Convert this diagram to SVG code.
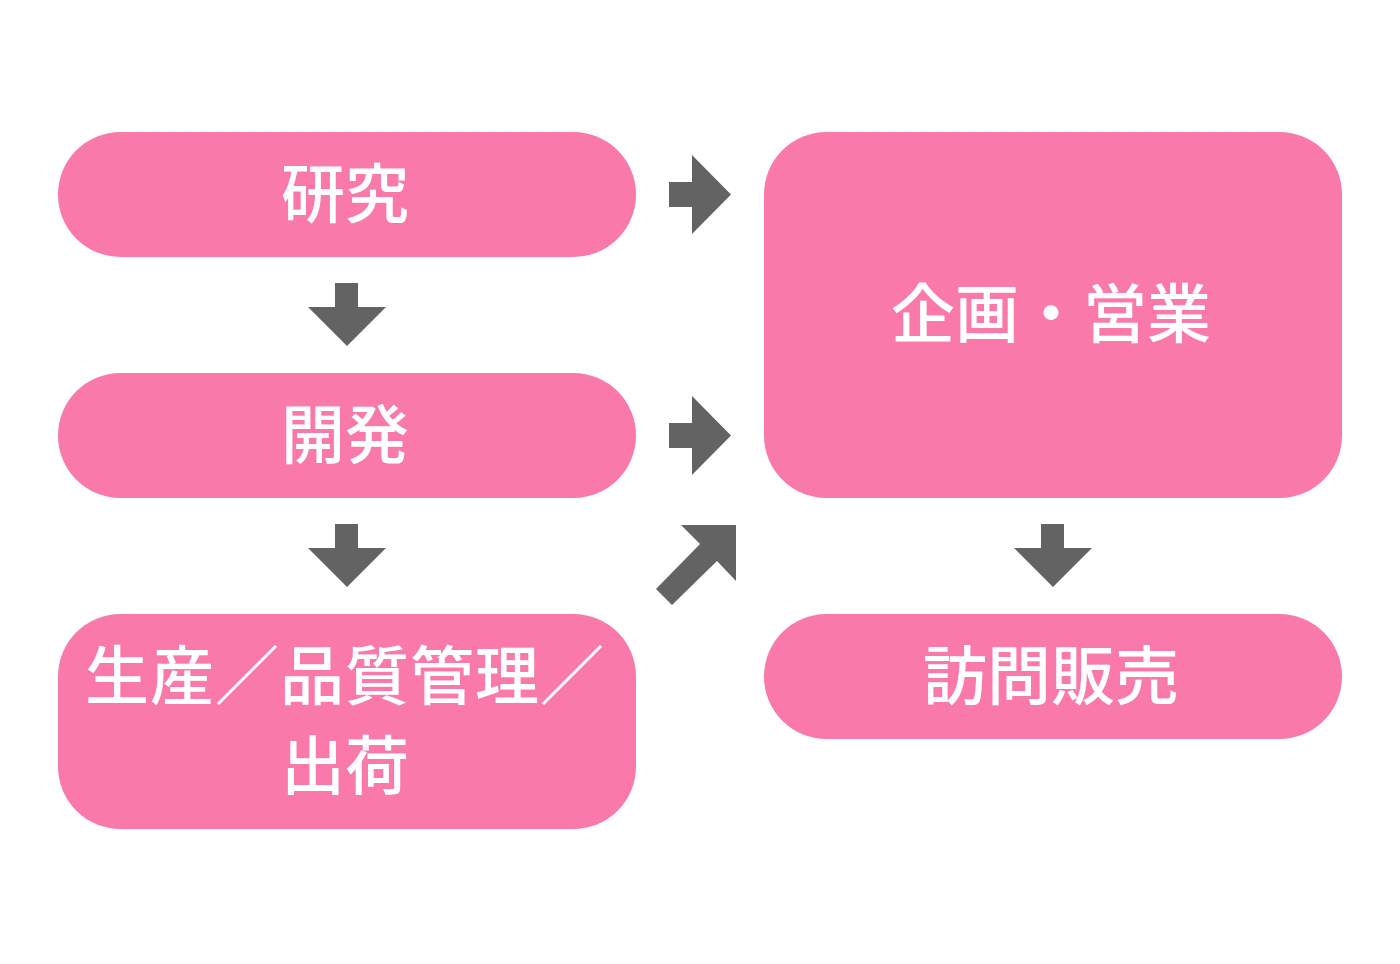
<svg xmlns="http://www.w3.org/2000/svg" width="1400" height="964" viewBox="0 0 1400 964">
<style>
.box{fill:#F97AAA}
.lbl{font-family:"Noto Sans CJK JP","Noto Sans CJK SC",sans-serif;font-weight:500;font-size:64px;fill:#FFFFFF;text-anchor:middle}
.arr{fill:#636363}
</style>
<rect width="1400" height="964" fill="#FFFFFF"/>
<g id="node-kenkyu">
<rect class="box" x="58" y="132" width="578" height="125" rx="62.5"/>
<text class="lbl" x="345" y="217">研究</text>
</g>
<g id="node-kaihatsu">
<rect class="box" x="58" y="373" width="578" height="125" rx="62.5"/>
<text class="lbl" x="345" y="458">開発</text>
</g>
<g id="node-seisan">
<rect class="box" x="58" y="614" width="578" height="215" rx="62.5"/>
<text class="lbl" x="345" y="699" letter-spacing="1">生産／品質管理／</text>
<text class="lbl" x="345" y="789">出荷</text>
</g>
<g id="node-kikaku">
<rect class="box" x="764" y="132" width="578" height="366" rx="62.5"/>
<text class="lbl" x="1051" y="337">企画・営業</text>
</g>
<g id="node-houmon">
<rect class="box" x="764" y="614" width="578" height="125" rx="62.5"/>
<text class="lbl" x="1051" y="699">訪問販売</text>
</g>
<g id="connectors">
<polygon class="arr" points="669,182 692,182 692,155 731,194.5 692,234 692,207 669,207"/>
<polygon class="arr" points="669,423 692,423 692,396 731,435.5 692,475 692,448 669,448"/>
<polygon class="arr" points="335,283 358,283 358,307 386,307 347,346 308,307 335,307"/>
<polygon class="arr" points="335,524 358,524 358,548 386,548 347,587 308,548 335,548"/>
<polygon class="arr" points="1041,524 1064,524 1064,548 1092,548 1053,587 1014,548 1041,548"/>
<polygon class="arr" points="681,525 736,525 736,581 717,561 672,605 656,589 700,544"/>
</g>
</svg>
